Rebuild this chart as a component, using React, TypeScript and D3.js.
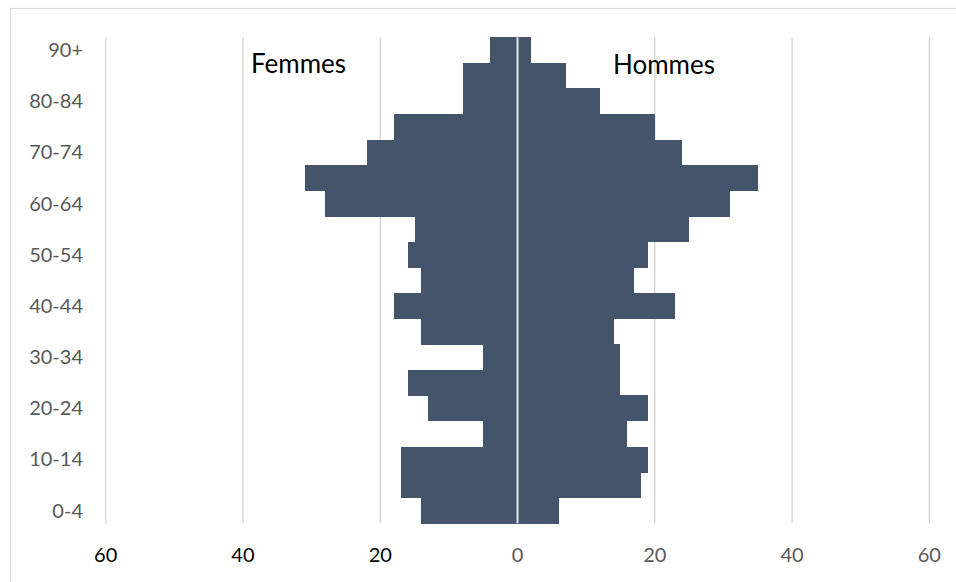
import React from "react";
import * as d3 from "d3";

const ageGroups = ["0-4","5-9","10-14","15-19","20-24","25-29","30-34","35-39","40-44","45-49","50-54","55-59","60-64","65-69","70-74","75-79","80-84","85-89","90+"];
const femmes = [14,17,17,5,13,16,5,14,18,14,16,15,28,31,22,18,8,8,4];
const hommes = [6,18,19,16,19,15,15,14,23,17,19,25,31,35,24,20,12,7,2];
const xTicks = [-60,-40,-20,0,20,40,60];
const shownAgeLabels = ["0-4","10-14","20-24","30-34","40-44","50-54","60-64","70-74","80-84","90+"];

const W = 956, H = 582;
const FONT = "Lato, 'Open Sans', sans-serif";

export default function App() {
  const x = d3.scaleLinear().domain([-60, 60]).range([105.7, 929.3]);
  const y = d3.scaleBand<string>().domain([...ageGroups].reverse()).range([37.3, 523.3]).paddingInner(0).paddingOuter(0);
  const bw = y.bandwidth();
  const barColor = "#44546A";
  return (
    <svg width={W} height={H} style={{ position: "absolute", left: 0, top: 0, background: "#fff" }}>
      <rect x={10.5} y={8.5} width={1000} height={1000} fill="#fff" stroke="#d9d9d9" strokeWidth={1.3} />
      {xTicks.map((t) => (
        <line key={"g" + t} x1={x(t)} x2={x(t)} y1={y.range()[0]} y2={y.range()[1]} stroke="#d9d9d9" strokeWidth={1.5} />
      ))}
      <g shapeRendering="crispEdges">
        {ageGroups.map((a, i) => (
          <g key={a}>
            <rect x={x(-femmes[i])} y={y(a)!} width={x(0) - x(-femmes[i])} height={bw + 0.5} fill={barColor} />
            <rect x={x(0)} y={y(a)!} width={x(hommes[i]) - x(0)} height={bw + 0.5} fill={barColor} />
          </g>
        ))}
      </g>
      <line x1={x(0)} x2={x(0)} y1={y.range()[0]} y2={y.range()[1]} stroke="#e4e6ea" strokeWidth={2} />
      {shownAgeLabels.map((a) => (
        <text key={"l" + a} x={83} y={y(a)! + bw / 2} dy="0.35em" textAnchor="end" fontFamily={FONT} fontSize={20} fill="#595959">
          {a}
        </text>
      ))}
      {xTicks.map((t) => (
        <text key={"t" + t} x={x(t)} y={555} dy="0.35em" textAnchor="middle" fontFamily={FONT} fontSize={20} fill={t < 0 ? "#000" : "#595959"}>
          {Math.abs(t)}
        </text>
      ))}
      <text x={251} y={73} fontFamily={FONT} fontSize={26} fill="#000">Femmes</text>
      <text x={613} y={74} fontFamily={FONT} fontSize={26} fill="#000">Hommes</text>
    </svg>
  );
}
